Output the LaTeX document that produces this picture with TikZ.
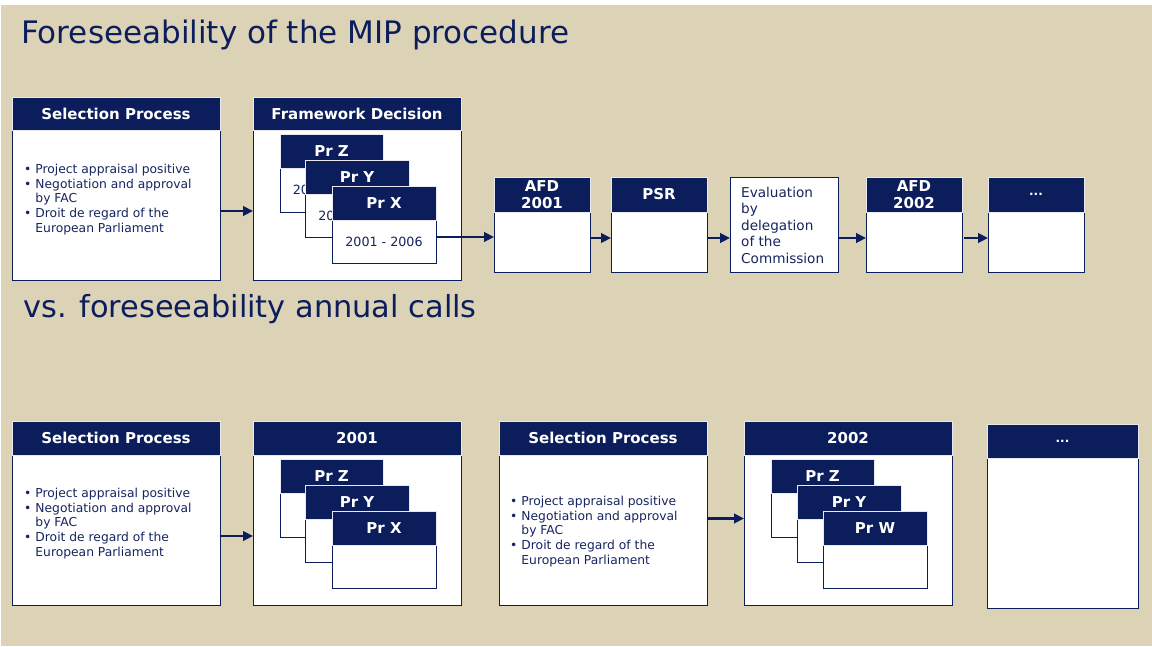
\documentclass[tikz,border=0pt]{standalone}
\usepackage{fontspec}
\setmainfont{DejaVu Sans}
\usetikzlibrary{arrows.meta,shadows}
\definecolor{navy}{RGB}{11,29,91}
\definecolor{bg}{RGB}{220,211,183}
\definecolor{hdrline}{RGB}{232,232,238}
\definecolor{shade}{RGB}{105,112,145}
\definecolor{txt}{RGB}{22,36,96}
\tikzset{
  hdr/.style={fill=navy, draw=hdrline, line width=0.7pt, text=white, inner sep=0pt, outer sep=0pt,
    anchor=north west, align=center, font=\fontsize{15}{17.5}\selectfont\bfseries},
  bdy/.style={fill=white, draw=navy, line width=0.9pt, inner sep=0pt, outer sep=0pt, anchor=north west,
    drop shadow={shadow xshift=1pt, shadow yshift=-1.3pt, fill=shade, opacity=1}},
  prtext/.style={text=txt, font=\fontsize{12.7}{15}\selectfont},
  conn/.style={draw=navy, line width=2.9pt, -{Triangle[length=10pt,width=9.5pt]}},
  bul/.style={text=txt, anchor=west, align=left, inner sep=0pt, font=\fontsize{12.3}{14.6}\selectfont},
  ttl/.style={text=navy, anchor=base west, inner sep=0pt, font=\fontsize{31}{36}\selectfont},
}
\newcommand{\bulletlist}{%
  \begin{tabular}{@{}l@{\hspace{4pt}}l@{}}
  \textbullet & Project appraisal positive\\
  \textbullet & Negotiation and approval\\
  & by FAC\\
  \textbullet & Droit de regard of the\\
  & European Parliament
  \end{tabular}}
\begin{document}
\begin{tikzpicture}[x=1pt,y=-1pt]
\useasboundingbox (0,0) rectangle (1152,646);
\fill[white] (0,0) rectangle (1152,646);
\fill[bg] (1,5) rectangle (1152,646);

% titles
\node[ttl] (title1) at (21,43.5) {Foreseeability of the MIP procedure};
\node[ttl, font=\fontsize{30.4}{36}\selectfont] (title2) at (23,317) {vs. foreseeability annual calls};

% ---------- top row ----------
\node[bdy, minimum width=208pt, minimum height=150pt] (sel1b) at (12,130) {};
\node[hdr, minimum width=208pt, minimum height=33pt] (sel1h) at (12,97) {Selection Process};
\node[bul] (sel1t) at (24,200) {\bulletlist};

\node[bdy, minimum width=208pt, minimum height=150pt] (fw1b) at (253,130) {};
\node[hdr, minimum width=208pt, minimum height=33pt] (fw1h) at (253,97) {Framework Decision};

\node[bdy, minimum width=103pt, minimum height=44pt, prtext] (tz1b) at (280,168) {2001 - 2006};
\node[hdr, minimum width=103pt, minimum height=34pt] (tz1h) at (280,134) {Pr Z};
\node[bdy, minimum width=104pt, minimum height=43pt, prtext] (ty1b) at (305,194) {2001 - 2006};
\node[hdr, minimum width=104pt, minimum height=34pt] (ty1h) at (305,160) {Pr Y};
\node[bdy, minimum width=104pt, minimum height=43pt, prtext] (tx1b) at (332,220) {2001 - 2006};
\node[hdr, minimum width=104pt, minimum height=34pt] (tx1h) at (332,186) {Pr X};

\node[bdy, minimum width=96pt, minimum height=60pt] (afd1b) at (494,212) {};
\node[hdr, minimum width=96pt, minimum height=35pt] (afd1h) at (494,177) {AFD\\2001};

\node[bdy, minimum width=96pt, minimum height=60pt] (psrb) at (611,212) {};
\node[hdr, minimum width=96pt, minimum height=35pt] (psrh) at (611,177) {PSR};

\node[bdy, minimum width=108pt, minimum height=95pt] (evalb) at (730,177) {};
\node[text=txt, anchor=west, align=left, inner sep=0pt, font=\fontsize{13.6}{16.5}\selectfont] (evalt) at (741,225)
  {Evaluation\\by\\delegation\\of the\\Commission};

\node[bdy, minimum width=96pt, minimum height=60pt] (afd2b) at (866,212) {};
\node[hdr, minimum width=96pt, minimum height=35pt] (afd2h) at (866,177) {AFD\\2002};

\node[bdy, minimum width=96pt, minimum height=60pt] (dot1b) at (988,212) {};
\node[hdr, minimum width=96pt, minimum height=35pt, font=\fontsize{12}{14}\selectfont\bfseries] (dot1h) at (988,177) {...};

% top connectors
\draw[conn] ([yshift=-6pt]sel1b.east) -- ([yshift=-6pt]fw1b.west);
\draw[conn] ([yshift=4.5pt]tx1b.east) -- ([yshift=4.5pt]tx1b.east -| afd1b.west);
\draw[conn] ([yshift=4pt]afd1b.east) -- ([yshift=4pt]psrb.west);
\draw[conn] ([yshift=4pt]psrb.east) -- ([yshift=4pt]psrb.east -| evalb.west);
\draw[conn] ([yshift=4pt]afd2b.west -| evalb.east) -- ([yshift=4pt]afd2b.west);
\draw[conn] ([yshift=4pt,xshift=2pt]afd2b.east) -- ([yshift=4pt]dot1b.west);

% ---------- bottom row ----------
\node[bdy, minimum width=208pt, minimum height=150pt] (sel2b) at (12,455) {};
\node[hdr, minimum width=208pt, minimum height=34pt] (sel2h) at (12,421) {Selection Process};
\node[bul] (sel2t) at (24,524) {\bulletlist};

\node[bdy, minimum width=208pt, minimum height=150pt] (y01b) at (253,455) {};
\node[hdr, minimum width=208pt, minimum height=34pt] (y01h) at (253,421) {2001};

\node[bdy, minimum width=103pt, minimum height=44pt] (bz1b) at (280,493) {};
\node[hdr, minimum width=103pt, minimum height=34pt] (bz1h) at (280,459) {Pr Z};
\node[bdy, minimum width=104pt, minimum height=43pt] (by1b) at (305,519) {};
\node[hdr, minimum width=104pt, minimum height=34pt] (by1h) at (305,485) {Pr Y};
\node[bdy, minimum width=104pt, minimum height=43pt] (bx1b) at (332,545) {};
\node[hdr, minimum width=104pt, minimum height=34pt] (bx1h) at (332,511) {Pr X};

\node[bdy, minimum width=208pt, minimum height=150pt] (sel3b) at (499,455) {};
\node[hdr, minimum width=208pt, minimum height=34pt] (sel3h) at (499,421) {Selection Process};
\node[bul, font=\fontsize{12.3}{14.75}\selectfont] (sel3t) at (510,532) {\bulletlist};

\node[bdy, minimum width=208pt, minimum height=150pt] (y02b) at (744,455) {};
\node[hdr, minimum width=208pt, minimum height=34pt] (y02h) at (744,421) {2002};

\node[bdy, minimum width=103pt, minimum height=44pt] (bz2b) at (771,493) {};
\node[hdr, minimum width=103pt, minimum height=34pt] (bz2h) at (771,459) {Pr Z};
\node[bdy, minimum width=104pt, minimum height=43pt] (by2b) at (797,519) {};
\node[hdr, minimum width=104pt, minimum height=34pt] (by2h) at (797,485) {Pr Y};
\node[bdy, minimum width=104pt, minimum height=43pt] (bw2b) at (823,545) {};
\node[hdr, minimum width=104pt, minimum height=34pt] (bw2h) at (823,511) {Pr W};

\node[bdy, minimum width=151pt, minimum height=150pt] (dot2b) at (987,458) {};
\node[hdr, minimum width=151pt, minimum height=34pt, font=\fontsize{12}{14}\selectfont\bfseries] (dot2h) at (987,424) {...};

% bottom connectors
\draw[conn] ([yshift=-6pt]sel2b.east) -- ([yshift=-6pt]y01b.west);
\draw[conn] ([yshift=11.5pt]sel3b.east) -- ([yshift=11.5pt]y02b.west);
\end{tikzpicture}
\end{document}
